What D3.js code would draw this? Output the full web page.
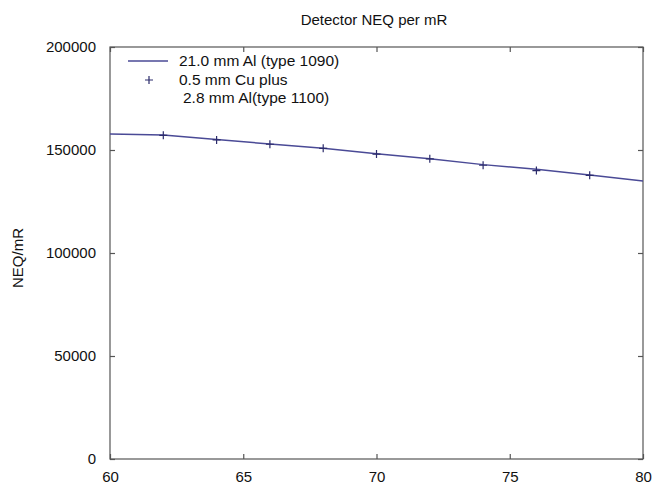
<!DOCTYPE html>
<html>
<head>
<meta charset="utf-8">
<script src="https://cdn.jsdelivr.net/npm/d3@7"></script>
<style>
body { margin: 0; background: #fff; }
text { font-family: "Liberation Sans", Arial, sans-serif; fill: #111; }
</style>
</head>
<body>
<script>
// curve for the 21.0 mm Al filter
var lineKv = [60, 62, 64, 66, 68, 70, 72, 74, 76, 78, 80];
var lineNeq = [157800, 157300, 155100, 152900, 150800, 148200, 145800, 142900, 140700, 137900, 135000];
// points for the 0.5 mm Cu + 2.8 mm Al filter
var ptKv = [62, 64, 66, 68, 70, 72, 74, 76, 78];
var ptNeq = [157100, 154900, 152800, 150800, 148000, 145700, 142600, 140000, 137700];
var xTicks = [60, 65, 70, 75, 80];
var yTicks = [0, 50000, 100000, 150000, 200000];

var W = 652, H = 485;
var m = {top: 47, right: 9, bottom: 26, left: 110};

var svg = d3.select("body").append("svg").attr("width", W).attr("height", H);

var x = d3.scaleLinear().domain([60, 80]).range([m.left, W - m.right]);
var y = d3.scaleLinear().domain([0, 200000]).range([H - m.bottom, m.top]);

var axisCol = "#555";

// frame
svg.append("rect")
   .attr("x", x(60)).attr("y", y(200000))
   .attr("width", x(80) - x(60)).attr("height", y(0) - y(200000))
   .attr("fill", "none").attr("stroke", axisCol).attr("stroke-width", 1.2);

// inward ticks on all four sides
var gBottom = svg.append("g").attr("transform", "translate(0," + y(0) + ")")
   .call(d3.axisBottom(x).tickValues(xTicks).tickSizeInner(-5).tickSizeOuter(0).tickPadding(12));
var gTop = svg.append("g").attr("transform", "translate(0," + y(200000) + ")")
   .call(d3.axisTop(x).tickValues(xTicks).tickSizeInner(-5).tickSizeOuter(0).tickFormat(""));
var gLeft = svg.append("g").attr("transform", "translate(" + x(60) + ",0)")
   .call(d3.axisLeft(y).tickValues(yTicks).tickSizeInner(-5).tickSizeOuter(0).tickPadding(14).tickFormat(d3.format("d")));
var gRight = svg.append("g").attr("transform", "translate(" + x(80) + ",0)")
   .call(d3.axisRight(y).tickValues(yTicks).tickSizeInner(-5).tickSizeOuter(0).tickFormat(""));

[gBottom, gTop, gLeft, gRight].forEach(function(g) {
  g.select(".domain").remove();
  g.selectAll("line").attr("stroke", axisCol).attr("stroke-width", 1.2);
  g.selectAll("text").style("font-size", "15px").attr("fill", "#111")
   .style("font-family", "'Liberation Sans', Arial, sans-serif");
});

// data line
var lineCol = "#4a4a96";
svg.append("path")
   .datum(lineKv.map(function(k, i) { return [k, lineNeq[i]]; }))
   .attr("fill", "none").attr("stroke", lineCol).attr("stroke-width", 1.5)
   .attr("d", d3.line().x(function(d) { return x(d[0]); }).y(function(d) { return y(d[1]); }));

// plus markers
var markCol = "#2c2c6c";
var plus = function(cx, cy) {
  return "M" + (cx - 4) + "," + cy + "H" + (cx + 4) + "M" + cx + "," + (cy - 4) + "V" + (cy + 4);
};
svg.selectAll(".pt").data(ptKv).enter().append("path")
   .attr("class", "pt")
   .attr("d", function(d, i) { return plus(x(d), y(ptNeq[i])); })
   .attr("stroke", markCol).attr("stroke-width", 1.2);

// legend
svg.append("line").attr("x1", 128).attr("x2", 168).attr("y1", 61).attr("y2", 61)
   .attr("stroke", lineCol).attr("stroke-width", 1.5);
svg.append("text").attr("x", 179).attr("y", 66).style("font-size", "15.5px").text("21.0 mm Al (type 1090)");
svg.append("path").attr("d", plus(149, 80)).attr("stroke", markCol).attr("stroke-width", 1.2);
svg.append("text").attr("x", 179).attr("y", 84.5).style("font-size", "15.5px").text("0.5 mm Cu plus");
svg.append("text").attr("x", 183).attr("y", 103).style("font-size", "15.5px").text("2.8 mm Al(type 1100)");

// title and axis label
svg.append("text").attr("x", 374).attr("y", 25).attr("text-anchor", "middle")
   .style("font-size", "15px").text("Detector NEQ per mR");
svg.append("text").attr("transform", "translate(23,258) rotate(-90)").attr("text-anchor", "middle")
   .style("font-size", "15px").text("NEQ/mR");
</script>
</body>
</html>
